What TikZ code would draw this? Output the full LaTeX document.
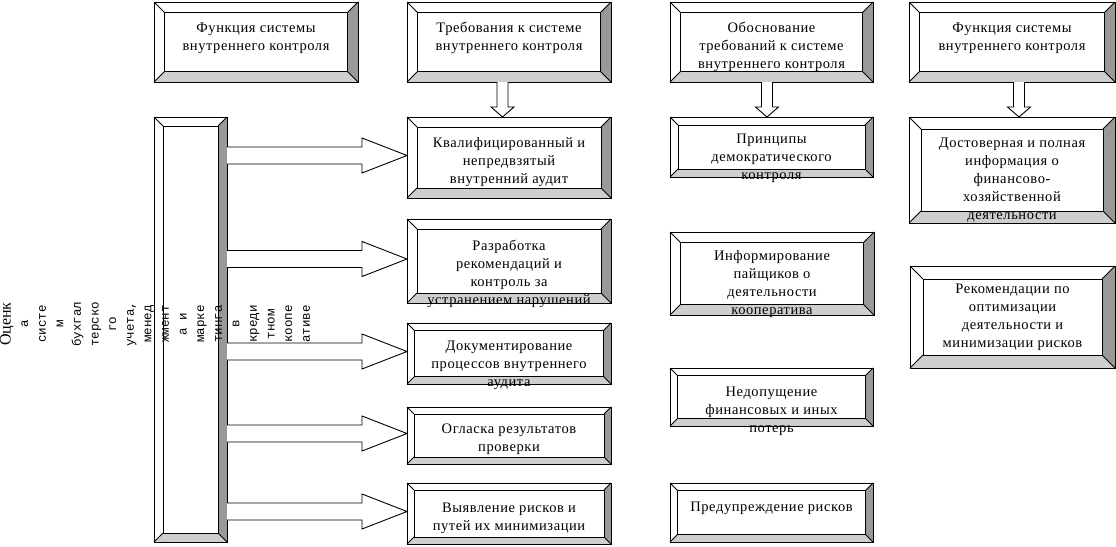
\documentclass[tikz,border=0pt]{standalone}
\usepackage{fontspec}
\setmainfont{Liberation Serif}
\newfontfamily\boxfont[LetterSpace=4]{Liberation Serif}
\newfontfamily\rotmono{Liberation Mono}
\usetikzlibrary{calc,fit}
\definecolor{bevR}{RGB}{153,153,153}
\definecolor{bevB}{RGB}{206,206,206}
\tikzset{
  boxline/.style={draw=black, line width=0.9pt},
  txt/.style={inner sep=0pt, outer sep=0pt, align=center, anchor=north,
    font=\boxfont\fontsize{14.5}{18}\selectfont},
  arr/.style={draw=black, fill=white, line width=0.9pt, line join=miter},
}
\newcommand\bbox[6]{%
  \node[fit={(#2,#3) (#4,#5)}, inner sep=0pt, outer sep=0pt] (#1) {};
  \fill[bevR] (#1.north east) -- (#1.south east) -- ($(#1.south east)+(-#6,-#6)$) -- ($(#1.north east)+(-#6,#6)$) -- cycle;
  \fill[bevB] (#1.south west) -- (#1.south east) -- ($(#1.south east)+(-#6,-#6)$) -- ($(#1.south west)+(#6,-#6)$) -- cycle;
  \draw[boxline] (#1.north west) rectangle (#1.south east);
  \draw[boxline] ($(#1.north west)+(#6,#6)$) rectangle ($(#1.south east)+(-#6,-#6)$);
  \draw[boxline] (#1.north west) -- ++(#6,#6) (#1.north east) -- ++(-#6,#6)
     (#1.south east) -- ++(-#6,-#6) (#1.south west) -- ++(#6,-#6);
}
\newcommand\harrow[1]{%
  \coordinate (#1-tip) at ($(#1.west)+(0,-2)$);
  \draw[arr] ($(tall.east |- #1-tip)+(0,-8.5)$) -- ($(#1-tip)+(-45,-8.5)$) -- ($(#1-tip)+(-45,-17.5)$) -- (#1-tip) -- ($(#1-tip)+(-45,17.5)$) -- ($(#1-tip)+(-45,8.5)$) -- ($(tall.east |- #1-tip)+(0,8.5)$);
}
\newcommand\varrow[3]{%
  \coordinate (#1-#2-a) at ($(#1.south)+(#3,0)$);
  \coordinate (#1-#2-b) at (#1-#2-a |- #2.north);
  \draw[arr] ($(#1-#2-a)+(-5.5,0)$) -- ($(#1-#2-b)+(-5.5,-10)$) -- ($(#1-#2-b)+(-11.5,-10)$) -- (#1-#2-b) -- ($(#1-#2-b)+(11.5,-10)$) -- ($(#1-#2-b)+(5.5,-10)$) -- ($(#1-#2-a)+(5.5,0)$);
}
\begin{document}
\begin{tikzpicture}[x=1pt,y=-1pt]
\fill[white] (0,0) rectangle (1116,546);
\useasboundingbox (0,0) rectangle (1116,546);

\bbox{f1}{154}{2}{358}{82}{10.5}
\bbox{t1}{407}{2}{611}{82}{10.5}
\bbox{o1}{670}{2}{873}{82}{10.5}
\bbox{f2}{909}{2}{1115}{82}{10.5}
\bbox{tall}{154}{117}{227}{542}{9}
\bbox{k}{407}{117}{611}{198}{10}
\bbox{r}{407}{219}{611}{303}{10}
\bbox{d}{407}{323}{611}{384}{7.5}
\bbox{og}{407}{407}{611}{464}{7}
\bbox{v}{407}{483}{611}{544}{7}
\bbox{p}{670}{117}{873}{177}{8}
\bbox{inf}{670}{232}{874}{315}{10.5}
\bbox{n}{670}{368}{873}{426}{7.5}
\bbox{pr}{670}{483}{873}{542}{7.5}
\bbox{dost}{909}{117}{1115}{223}{12}
\bbox{rek}{910}{266}{1115}{368}{13}

\node[txt] (f1t) at ($(f1.north)+(0,18)$) {\rule{0pt}{12pt}Функция системы\\внутреннего контроля};
\node[txt] (t1t) at ($(t1.north)+(0,18)$) {\rule{0pt}{12pt}Требования к системе\\внутреннего контроля};
\node[txt] (o1t) at ($(o1.north)+(0,18)$) {\rule{0pt}{12pt}Обоснование\\требований к системе\\внутреннего контроля};
\node[txt] (f2t) at ($(f2.north)+(0,18)$) {\rule{0pt}{12pt}Функция системы\\внутреннего контроля};
\node[txt] (kt) at ($(k.north)+(0,18)$) {\rule{0pt}{12pt}Квалифицированный и\\непредвзятый\\внутренний аудит};
\node[txt] (rt) at ($(r.north)+(0,19)$) {\rule{0pt}{12pt}Разработка\\рекомендаций и\\контроль за\\устранением нарушений};
\node[txt] (dt) at ($(d.north)+(0,15)$) {\rule{0pt}{12pt}Документирование\\процессов внутреннего\\аудита};
\node[txt] (ogt) at ($(og.north)+(0,14)$) {\rule{0pt}{12pt}Огласка результатов\\проверки};
\node[txt] (vt) at ($(v.north)+(0,17)$) {\rule{0pt}{12pt}Выявление рисков и\\путей их минимизации};
\node[txt] (pt) at ($(p.north)+(0,14)$) {\rule{0pt}{12pt}Принципы\\демократического\\контроля};
\node[txt] (inft) at ($(inf.north)+(0,16)$) {\rule{0pt}{12pt}Информирование\\пайщиков о\\деятельности\\кооператива};
\node[txt] (nt) at ($(n.north)+(0,16)$) {\rule{0pt}{12pt}Недопущение\\финансовых и иных\\потерь};
\node[txt] (prt) at ($(pr.north)+(0,16)$) {\rule{0pt}{12pt}Предупреждение рисков};
\node[txt] (dostt) at ($(dost.north)+(0,18)$) {\rule{0pt}{12pt}Достоверная и полная\\информация о\\финансово-\\хозяйственной\\деятельности};
\node[txt] (rekt) at ($(rek.north)+(0,15)$) {\rule{0pt}{12pt}Рекомендации по\\оптимизации\\деятельности и\\минимизации рисков};

\node[rotate=90, anchor=north, inner sep=0pt, outer sep=0pt, align=center,
  font=\rotmono\fontsize{12.5}{17.6}\selectfont] (lbl) at (0,324)
  {{\fontsize{16}{17.6}\rmfamily\selectfont Оценк}\\а\\систе\\м\\бухгал\\терско\\го\\учета,\\менед\\жмент\\а и\\марке\\тинга\\в\\креди\\тном\\коопе\\ативе};

\varrow{t1}{k}{-6.5}
\varrow{o1}{p}{-4.5}
\varrow{f2}{dost}{7}

\harrow{k}
\harrow{r}
\harrow{d}
\harrow{og}
\harrow{v}
\end{tikzpicture}
\end{document}
